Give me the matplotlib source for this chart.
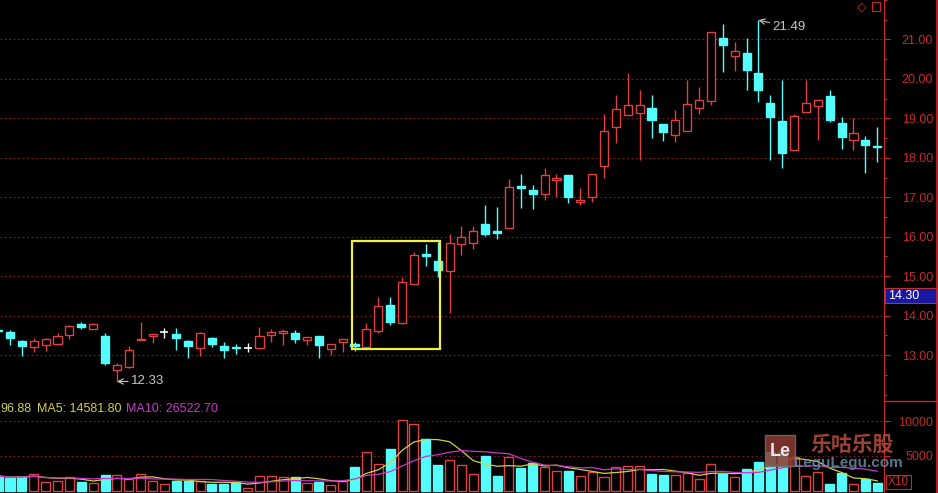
import matplotlib
matplotlib.use('Agg')
import matplotlib.pyplot as plt
from matplotlib.patches import Rectangle
from matplotlib.lines import Line2D
import numpy as np
import pandas as pd

# ==========================================
# DATA
# first candle is the one cut off at the left edge
# ==========================================
opens = [13.64, 13.58, 13.35, 13.21, 13.25, 13.29, 13.51, 13.78, 13.66, 13.49,
         12.62, 12.70, 13.37, 13.49, 13.59, 13.53, 13.35, 13.19, 13.42, 13.23,
         13.21, 13.17, 13.17, 13.51, 13.57, 13.57, 13.38, 13.49, 13.15, 13.34,
         13.29, 13.21, 13.62, 14.28, 13.82, 14.81, 15.55, 15.38, 15.13, 15.81,
         15.83, 16.33, 16.14, 16.23, 17.28, 17.19, 17.07, 17.43, 17.56, 16.88,
         17.01, 17.78, 18.78, 19.08, 19.14, 19.27, 18.85, 18.57, 18.68, 19.27,
         19.44, 21.04, 20.57, 20.66, 20.16, 19.39, 18.93, 18.19, 19.16, 19.31,
         19.56, 18.88, 18.44, 18.46, 18.31]
highs = [13.68, 13.63, 13.37, 13.42, 13.44, 13.56, 13.76, 13.84, 13.80, 13.55,
         12.81, 13.24, 13.84, 13.53, 13.69, 13.69, 13.38, 13.59, 13.46, 13.34,
         13.27, 13.30, 13.72, 13.66, 13.67, 13.63, 13.45, 13.49, 13.27, 13.40,
         13.32, 13.80, 14.48, 14.46, 14.98, 15.62, 15.81, 15.87, 16.08, 16.27,
         16.27, 16.80, 16.75, 17.47, 17.60, 17.30, 17.73, 17.60, 17.56, 17.24,
         17.60, 19.12, 19.58, 20.15, 19.72, 19.58, 18.85, 19.20, 19.96, 19.79,
         21.19, 21.40, 20.93, 21.04, 21.49, 19.58, 19.98, 19.10, 19.96, 19.47,
         19.72, 19.03, 19.01, 18.54, 18.78]
lows = [13.55, 13.25, 12.98, 13.07, 13.11, 13.25, 13.41, 13.65, 13.66, 12.76,
        12.33, 12.66, 13.37, 13.30, 13.42, 13.13, 12.93, 12.98, 13.21, 12.92,
        13.02, 13.07, 13.17, 13.34, 13.25, 13.30, 13.25, 12.93, 13.00, 13.07,
        13.10, 13.17, 13.55, 13.76, 13.78, 14.81, 15.25, 14.97, 14.06, 15.53,
        15.68, 16.01, 15.95, 16.23, 16.73, 16.71, 16.92, 17.01, 16.86, 16.80,
        16.88, 17.50, 18.37, 19.08, 17.94, 18.49, 18.42, 18.40, 18.68, 19.12,
        19.33, 20.17, 20.20, 19.72, 19.42, 17.95, 17.73, 18.19, 19.16, 18.46,
        18.91, 18.23, 18.21, 17.62, 17.89]
closes = [13.60, 13.42, 13.24, 13.35, 13.40, 13.49, 13.73, 13.70, 13.78, 12.81,
          12.75, 13.14, 13.41, 13.53, 13.59, 13.42, 13.24, 13.55, 13.27, 13.14,
          13.17, 13.17, 13.49, 13.59, 13.61, 13.41, 13.45, 13.25, 13.27, 13.40,
          13.24, 13.67, 14.25, 13.84, 14.84, 15.53, 15.51, 15.15, 15.84, 15.98,
          16.14, 16.08, 16.10, 17.26, 17.24, 17.09, 17.56, 17.49, 17.01, 16.94,
          17.60, 18.68, 19.24, 19.35, 19.35, 18.95, 18.65, 18.95, 19.37, 19.46,
          21.19, 20.86, 20.70, 20.22, 19.71, 19.03, 18.12, 19.05, 19.39, 19.47,
          18.97, 18.53, 18.63, 18.33, 18.28]
volumes = [2140, 1810, 2000, 2480, 1240, 1430, 2050, 1240, 1190, 2290,
           2240, 1670, 2480, 1430, 950, 1430, 1480, 1430, 950, 950,
           1240, 380, 2190, 2190, 2050, 2050, 1190, 1240, 860, 1380,
           3480, 5620, 3810, 5950, 10100, 9520, 7430, 3710, 4430, 3710,
           2380, 5000, 2190, 4810, 3330, 4050, 3480, 2860, 2860, 2140,
           2670, 2050, 3480, 3620, 3620, 2380, 2290, 2290, 2520, 1710,
           3810, 2380, 1950, 3140, 4100, 5620, 5620, 4900, 2190, 2670,
           950, 2520, 950, 1710, 1100]

price_ticks = [13, 14, 15, 16, 17, 18, 19, 20, 21]
vol_ticks = [5000, 10000]
low_label = "12.33"
high_label = "21.49"
vol_header = ["96.88", "MA5: 14581.80", "MA10: 26522.70"]

# ==========================================
# STYLE
# ==========================================
BG = 'black'
RED = '#e04040'
CYAN = '#54fcfc'
AXRED = '#c82828'
GRID = '#8a1c1c'
W, H = 938, 493
plt.rcParams['font.family'] = ['Liberation Sans', 'DejaVu Sans']

xs = np.arange(len(opens)) - 1
o = np.array(opens); c = np.array(closes)
hi = np.array(highs); lo = np.array(lows)
vol = np.array(volumes)
up = c > o
doji = c == o

fig = plt.figure(figsize=(W / 100, H / 100), dpi=100, facecolor=BG)
ax = fig.add_axes([0, 92 / H, 884 / W, 401 / H], facecolor=BG)
axv = fig.add_axes([0, 0, 884 / W, 92 / H], facecolor=BG)

bw = 0.68

# ---- candles ----
for i in range(len(xs)):
    if doji[i]:
        col = 'white'
    elif up[i]:
        col = RED
    else:
        col = CYAN
    ax.vlines(xs[i], lo[i], hi[i], color=col, lw=1, zorder=2)
    if doji[i]:
        ax.hlines(o[i], xs[i] - bw / 2, xs[i] + bw / 2, color=col, lw=1.2, zorder=3)
    elif up[i]:
        ax.bar(xs[i], c[i] - o[i], bottom=o[i], width=bw, facecolor=BG,
               edgecolor=col, lw=1, zorder=3)
    else:
        ax.bar(xs[i], o[i] - c[i], bottom=c[i], width=bw, facecolor=col,
               edgecolor=col, lw=1, zorder=3)

ax.set_xlim(-10 / 11.88, 874 / 11.88)
ax.set_ylim(13 - 46 / 39.5, 13 + 355 / 39.5)
for p in price_ticks:
    ax.axhline(p, color=GRID, lw=0.8, ls=(0, (1.5, 2.5)), zorder=1)

# highlight box round the breakout
k0, k1 = 29, 36
ax.add_patch(Rectangle((xs[k0 + 1] - 0.25, lo[k0 + 2:k1 + 2].min() - 0.02),
                       (k1 - k0) + 0.45, hi[k0 + 2:k1 + 2].max() - lo[k0 + 2:k1 + 2].min() + 0.05,
                       fill=False, edgecolor='#f0f040', lw=1.6, zorder=5))

# low / high markers
ilo = int(np.argmin(lo))
ax.annotate(low_label, xy=(xs[ilo], lo[ilo]), xytext=(10, 0), textcoords='offset points',
            color='#c8c8c8', fontsize=9.5, va='center', ha='left',
            arrowprops=dict(arrowstyle='->', color='#c8c8c8', lw=0.8, shrinkA=0, shrinkB=0))
ihi = int(np.argmax(hi))
ax.annotate(high_label, xy=(xs[ihi], hi[ihi]), xytext=(10, -5), textcoords='offset points',
            color='#c8c8c8', fontsize=9.5, va='center', ha='left',
            arrowprops=dict(arrowstyle='->', color='#c8c8c8', lw=0.8, shrinkA=0, shrinkB=0))

# ---- price axis ----
ax.yaxis.tick_right()
ax.set_yticks(price_ticks)
ax.set_yticklabels([f"{p:.2f}" for p in price_ticks])
ax.set_yticks(np.arange(12, 22.01, 0.5), minor=True)
ax.tick_params(axis='y', which='major', colors=AXRED, length=4.3, width=0.8,
               labelsize=9, pad=31)
ax.tick_params(axis='y', which='minor', colors=AXRED, length=2.2, width=0.8)
plt.setp(ax.get_yticklabels(), ha='right')
ax.set_xticks([])
for s in ['top', 'left']:
    ax.spines[s].set_visible(False)
ax.spines['right'].set_color(AXRED)
ax.spines['bottom'].set_color(AXRED)

# ---- volume ----
for i in range(len(xs)):
    if up[i] or doji[i]:
        axv.bar(xs[i], vol[i], width=0.76, facecolor=BG, edgecolor=RED, lw=1, zorder=3)
    else:
        axv.bar(xs[i], vol[i], width=0.76, facecolor=CYAN, edgecolor=CYAN, lw=1, zorder=3)

ma5 = pd.Series(vol).rolling(5, min_periods=1).mean()
ma10 = pd.Series(vol).rolling(10, min_periods=1).mean()
axv.plot(xs, ma5, color='#d0d040', lw=0.9, zorder=4)
axv.plot(xs, ma10, color='#c838c8', lw=0.9, zorder=4)

axv.set_xlim(ax.get_xlim())
axv.set_ylim(-2 / 70 * 10000, 90 / 70 * 10000)
for v in vol_ticks:
    axv.axhline(v, color=GRID, lw=0.8, ls=(0, (1.5, 2.5)), zorder=1)
axv.yaxis.tick_right()
axv.set_yticks(vol_ticks)
axv.set_yticklabels([str(v) for v in vol_ticks])
axv.tick_params(axis='y', colors=AXRED, length=4.3, width=0.8, labelsize=9, pad=31)
plt.setp(axv.get_yticklabels(), ha='right')
axv.set_xticks([])
for s in ['top', 'left', 'bottom']:
    axv.spines[s].set_visible(False)
axv.spines['right'].set_color(AXRED)

# header of the volume panel
hx = [0, 37, 126]
hc = ['#d0d060', '#d0d040', '#c838c8']
for t, x0, cc in zip(vol_header, hx, hc):
    fig.text(x0 / W, 1 - 409 / H, t, color=cc, fontsize=9, va='center', ha='left')

# ---- frame pieces outside the axes ----
fig.add_artist(Line2D([884 / W, 1], [1 - 401 / H, 1 - 401 / H], color=AXRED, lw=1))
fig.add_artist(Line2D([937 / W, 937 / W], [0, 1], color=AXRED, lw=1.2))

# current price tag
fig.add_artist(Rectangle((885 / W, 1 - 303 / H), 52 / W, 15 / H, transform=fig.transFigure,
                         facecolor='#1818a0', edgecolor='#c03030', lw=0.8))
fig.text(888 / W, 1 - 296 / H, "14.30", color='white', fontsize=9, va='center', ha='left')

# X10 box
fig.add_artist(Rectangle((886 / W, 1 - 489 / H), 25 / W, 14 / H, transform=fig.transFigure,
                         facecolor=BG, edgecolor=AXRED, lw=0.8))
fig.text(898.5 / W, 1 - 482 / H, "X10", color=AXRED, fontsize=8.5, va='center', ha='center')

# icons top right
fig.text(862 / W, 1 - 7 / H, "\u25c7", color=AXRED, fontsize=9, va='center', ha='center',
         family=['DejaVu Sans'])
fig.add_artist(Rectangle((872 / W, 1 - 11 / H), 8 / W, 9 / H, transform=fig.transFigure,
                         fill=False, edgecolor=AXRED, lw=0.8))

# watermark
fig.add_artist(Rectangle((765 / W, 1 - 466 / H), 30 / W, 31 / H, transform=fig.transFigure,
                         facecolor='#8c3a32', edgecolor='#707070', lw=1, alpha=0.85, zorder=10))
fig.text(780 / W, 1 - 452 / H, "Le", color='#e8e8e8', fontsize=13, fontweight='bold',
         va='center', ha='center', zorder=11)
fig.text(852 / W, 1 - 444 / H, "乐咕乐股", color='#b04a3c', fontsize=15, fontweight='bold',
         va='center', ha='center', family=['Noto Sans CJK SC', 'DejaVu Sans'], alpha=0.9, zorder=11)
fig.text(848 / W, 1 - 463 / H, "LeguLegu.com", color='#6a8aa2', fontsize=11, fontweight='bold',
         va='center', ha='center', alpha=0.85, zorder=11)

fig.savefig('out.png', dpi=100, facecolor=BG)
